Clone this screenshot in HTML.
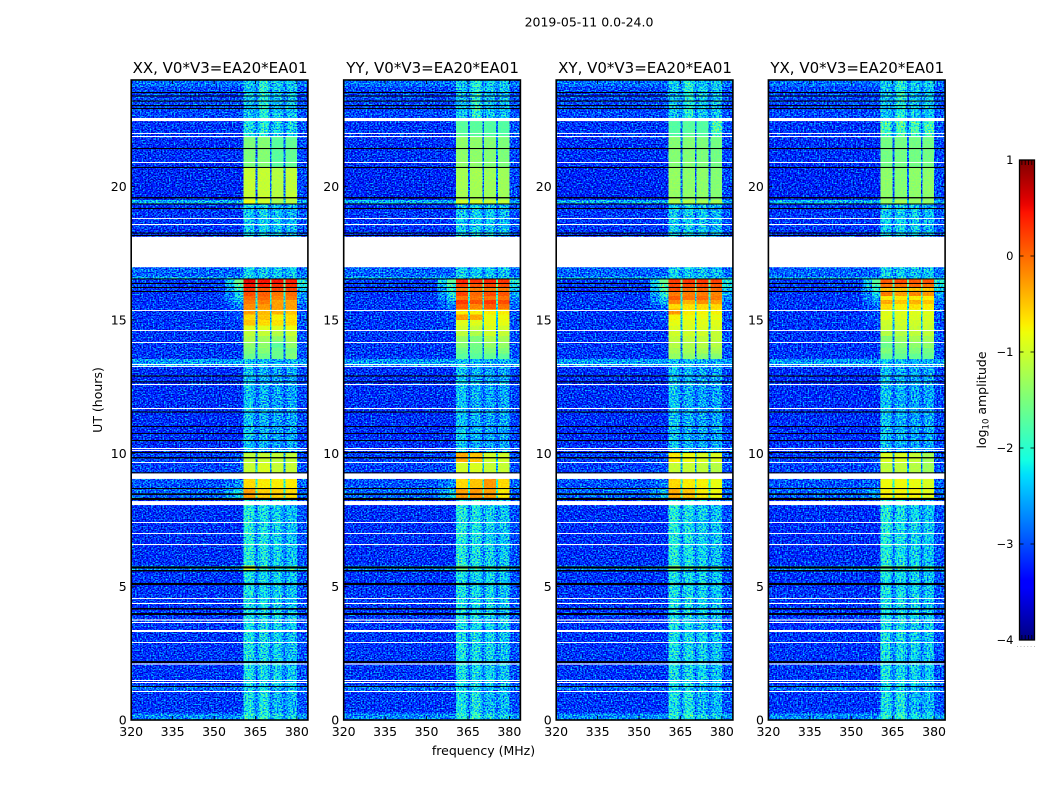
<!DOCTYPE html>
<html lang="en">
<head>
<meta charset="utf-8">
<title>2019-05-11 0.0-24.0</title>
<style>
html,body{margin:0;padding:0;background:#fff;}
svg{display:block;}
text{font-family:"DejaVu Sans","Liberation Sans",sans-serif;fill:#000;}
</style>
</head>
<body>
<svg id="chart" xmlns="http://www.w3.org/2000/svg" width="1050" height="800" viewBox="0 0 1050 800">
  <defs id="defs"></defs>
  <text x="589" y="26.5" font-size="12.5" text-anchor="middle">2019-05-11 0.0-24.0</text>
  <text transform="translate(102,400) rotate(-90)" font-size="12.5" text-anchor="middle">UT (hours)</text>
  <text x="483.5" y="755" font-size="12.5" text-anchor="middle">frequency (MHz)</text>
  <text transform="translate(986,400) rotate(-90)" font-size="12.5" text-anchor="middle">log<tspan font-size="8.5" dy="2.5">10</tspan><tspan dy="-2.5"> amplitude</tspan></text>
  <g id="panels"></g>
  <g id="colorbar"></g>
</svg>
<script>
// ---- axis data ----
const panelNames = ["XX", "YY", "XY", "YX"];
const baselineLabel = "V0*V3=EA20*EA01";
const xTicks = [320, 335, 350, 365, 380];
const yTicks = [0, 5, 10, 15, 20];
const colorTicks = [1, 0, -1, -2, -3, -4];

// ---- frequency segments in MHz, and which row column each one reads ----
const freqEdges = [320, 354, 357.5, 360.6, 364.3, 365, 365.7, 366.4, 369.5, 370.2, 370.9, 371.6, 374.5, 375.2, 375.9, 376.6, 380, 384];
const freqColumns = ["bg", "mid", "sh", "c1", "e1", "gap", "e2", "c2", "e2", "gap", "e3", "c3", "e3", "gap", "e4", "c4", "r"];

// ---- time rows: start of each row in UT hours ----
const rowStarts = [0, 0.25, 1.1, 1.3, 5.62, 5.8, 8.25, 8.7, 9.25, 9.65, 10.05, 13.25,
  13.54, 13.75, 13.95, 14.2, 14.4, 14.6, 14.8, 15.0, 15.2, 15.4, 15.6, 15.75, 15.9, 16.05, 16.2, 16.35,
  16.55, 16.62, 18.12, 19.37, 19.5, 20.7, 21.9, 22.55, 23.75];

// ---- log10 amplitude per row: [bg, sh, c1, c2, c3, c4, r, gap] ----
const B0 = [-2.7, -2.7, -2.05, -1.95, -2.2, -2.3, -2.6, -2.7];
const Q1 = [-3.15, -3.15, -2.2, -2.15, -2.45, -2.45, -3.0, -2.85];
const L1 = [-2.85, -2.85, -2.3, -2.3, -2.45, -2.45, -2.8, -2.8];
const Q2 = [-3.15, -3.15, -2.2, -2.25, -2.3, -2.4, -3.0, -2.85];
const Q3 = [-3.2, -3.2, -2.1, -2.2, -2.3, -2.4, -3.0, -2.8];
const Q4 = [-3.2, -3.2, -2.4, -2.5, -2.55, -2.55, -3.05, -2.95];
const L2 = [-2.6, -2.6, -2.4, -2.4, -2.5, -2.5, -2.6, -2.7];
const T1 = [-2.5, -2.5, -2.25, -2.25, -2.35, -2.35, -2.5, -2.6];
const T2 = [-2.9, -2.9, -2.3, -2.35, -2.35, -2.4, -2.85, -2.75];
const Q5 = [-3.15, -3.15, -2.35, -2.3, -2.35, -2.45, -3.0, -2.85];
const Q6 = [-3.05, -3.05, -2.4, -2.05, -2.35, -2.4, -3.0, -2.8];
const Q7 = [-2.85, -2.85, -2.35, -2.05, -2.35, -2.35, -2.8, -2.75];

const rowsXX = [B0, Q1, L1, Q2,
  [-2.75, -2.65, -1.0, -1.9, -2.0, -2.0, -2.65, -2.6], Q3,
  [-2.9, -2.3, -0.3, -0.55, -0.55, -0.6, -2.9, -1.9],
  [-3.0, -2.7, -0.6, -0.7, -0.7, -0.7, -2.9, -2.0],
  [-3.1, -3.0, -1.05, -0.95, -1.05, -1.05, -3.0, -2.6],
  [-3.1, -3.0, -1.1, -1.05, -1.1, -1.1, -3.0, -2.6], Q4, L2,
  [-3.15, -3.15, -1.6, -1.6, -1.6, -1.5, -3.0, -2.8],
  [-3.15, -3.15, -1.5, -1.45, -1.6, -1.55, -3.0, -2.8],
  [-3.15, -3.15, -1.4, -1.4, -1.7, -1.4, -3.0, -2.8],
  [-3.15, -3.15, -1.2, -1.3, -1.4, -1.2, -3.0, -2.7],
  [-3.15, -3.15, -1.1, -1.05, -1.15, -1.05, -3.0, -2.6],
  [-3.15, -3.15, -0.9, -0.9, -0.95, -0.85, -3.0, -2.5],
  [-3.15, -3.05, -0.5, -0.6, -0.65, -0.6, -3.0, -2.5],
  [-3.15, -3.0, -0.6, -0.5, -0.75, -0.65, -3.0, -2.5],
  [-3.15, -3.0, -0.3, -0.45, -0.4, -0.5, -3.0, -2.4],
  [-3.15, -2.8, -0.2, -0.25, -0.3, -0.3, -2.9, -2.3],
  [-3.15, -2.6, -0.1, -0.1, -0.3, -0.3, -2.8, -2.2],
  [-3.15, -2.3, 0.0, 0.0, -0.15, -0.1, -2.7, -2.1],
  [-3.15, -2.3, 0.15, 0.05, -0.05, 0.0, -2.6, -2.0],
  [-3.15, -2.0, 0.3, 0.1, 0.2, 0.2, -2.4, -1.9],
  [-3.1, -1.8, 0.45, 0.35, 0.3, 0.3, -2.2, -1.8],
  [-3.1, -1.6, 0.55, 0.45, 0.45, 0.4, -2.1, -1.7],
  T1, T2, Q5,
  [-2.5, -2.5, -0.85, -1.0, -1.25, -1.15, -2.55, -2.4],
  [-3.25, -3.25, -1.05, -1.05, -1.15, -1.1, -3.05, -2.9],
  [-3.2, -3.2, -1.5, -1.45, -1.7, -1.65, -3.05, -2.9],
  [-3.15, -3.15, -2.2, -2.1, -2.25, -2.3, -3.0, -2.85],
  Q6, Q7];

const rowsYY = [B0, Q1, L1, Q2,
  [-2.75, -2.65, -1.6, -1.9, -2.0, -2.0, -2.65, -2.6], Q3,
  [-2.9, -2.35, -0.3, -0.25, -0.3, -0.7, -2.9, -1.9],
  [-3.0, -2.7, -0.6, -0.5, -0.25, -0.6, -2.9, -2.0],
  [-3.1, -3.0, -1.0, -0.95, -1.05, -1.05, -3.0, -2.6],
  [-3.1, -3.0, -0.35, -0.5, -1.0, -1.0, -3.0, -2.3], Q4, L2,
  [-3.15, -3.15, -1.7, -1.7, -1.65, -1.7, -3.0, -2.8],
  [-3.15, -3.15, -1.6, -1.6, -1.5, -1.5, -3.0, -2.8],
  [-3.15, -3.15, -1.45, -1.55, -1.35, -1.35, -3.0, -2.8],
  [-3.15, -3.15, -1.35, -1.5, -1.2, -1.25, -3.0, -2.7],
  [-3.15, -3.15, -1.1, -1.2, -1.0, -1.05, -3.0, -2.6],
  [-3.15, -3.15, -1.0, -1.05, -0.95, -1.0, -3.0, -2.5],
  [-3.15, -3.05, -0.9, -0.9, -0.85, -0.85, -3.0, -2.4],
  [-3.15, -3.0, -0.3, -0.35, -0.85, -0.8, -3.0, -2.3],
  [-3.15, -3.0, -0.7, -0.75, -0.7, -0.7, -3.0, -2.3],
  [-3.15, -2.8, 0.05, -0.15, 0.05, -0.05, -2.9, -2.2],
  [-3.15, -2.6, 0.25, 0.1, 0.25, 0.15, -2.8, -2.1],
  [-3.15, -2.4, -0.05, -0.05, -0.05, -0.05, -2.7, -2.1],
  [-3.15, -2.2, 0.2, 0.0, 0.15, 0.1, -2.6, -2.0],
  [-3.15, -2.1, -0.1, -0.1, -0.1, -0.1, -2.4, -1.9],
  [-3.1, -1.9, 0.2, 0.1, 0.2, 0.15, -2.2, -1.8],
  [-3.1, -1.7, 0.35, 0.3, 0.35, 0.3, -2.1, -1.7],
  T1, T2, Q5,
  [-2.5, -2.5, -1.0, -1.0, -1.1, -1.1, -2.55, -2.4],
  [-3.25, -3.25, -1.25, -1.25, -1.3, -1.3, -3.05, -2.9],
  [-3.2, -3.2, -1.4, -1.4, -1.45, -1.5, -3.05, -2.9],
  [-3.15, -3.15, -1.7, -1.7, -1.75, -1.75, -3.0, -2.85],
  Q6, Q7];

const rowsXY = [B0, Q1, L1, Q2,
  [-2.75, -2.65, -1.5, -1.9, -2.0, -2.0, -2.65, -2.6], Q3,
  [-2.9, -2.45, -0.35, -0.5, -0.7, -0.8, -2.9, -1.9],
  [-3.0, -2.8, -0.6, -0.7, -0.75, -0.85, -2.9, -2.0],
  [-3.1, -3.0, -1.05, -1.05, -1.1, -1.15, -3.0, -2.6],
  [-3.1, -3.0, -0.7, -0.8, -0.95, -0.95, -3.0, -2.4], Q4, L2,
  [-3.15, -3.15, -1.35, -1.4, -1.45, -1.45, -3.0, -2.8],
  [-3.15, -3.15, -1.25, -1.25, -1.25, -1.25, -3.0, -2.8],
  [-3.15, -3.15, -1.15, -1.2, -1.15, -1.15, -3.0, -2.8],
  [-3.15, -3.15, -1.1, -1.1, -1.1, -1.1, -3.0, -2.7],
  [-3.15, -3.15, -1.0, -1.0, -1.0, -1.05, -3.0, -2.6],
  [-3.15, -3.15, -0.95, -0.95, -0.95, -0.95, -3.0, -2.5],
  [-3.15, -3.05, -0.85, -0.9, -0.9, -0.9, -3.0, -2.4],
  [-3.15, -3.0, -0.75, -0.8, -0.85, -0.85, -3.0, -2.3],
  [-3.15, -3.0, -0.25, -0.7, -0.75, -0.75, -3.0, -2.3],
  [-3.15, -2.8, -0.6, -0.65, -0.6, -0.6, -2.9, -2.2],
  [-3.15, -2.5, -0.15, -0.4, -0.2, -0.3, -2.8, -2.1],
  [-3.15, -2.3, 0.05, -0.05, 0.0, -0.1, -2.7, -2.1],
  [-3.15, -2.1, -0.1, -0.1, -0.1, -0.15, -2.6, -2.0],
  [-3.15, -1.9, 0.15, 0.0, 0.05, 0.0, -2.4, -1.9],
  [-3.1, -1.8, 0.2, 0.15, 0.15, 0.1, -2.2, -1.8],
  [-3.1, -1.6, 0.25, 0.25, 0.25, 0.2, -2.1, -1.7],
  T1, T2, Q5,
  [-2.5, -2.5, -1.2, -1.2, -1.25, -1.25, -2.55, -2.4],
  [-3.25, -3.25, -1.35, -1.4, -1.4, -1.45, -3.05, -2.9],
  [-3.2, -3.2, -1.45, -1.45, -1.5, -1.55, -3.05, -2.9],
  [-3.15, -3.15, -1.75, -1.7, -1.75, -1.8, -3.0, -2.85],
  Q6, Q7];

const rowsYX = [B0, Q1, L1, Q2,
  [-2.75, -2.65, -1.7, -1.9, -2.0, -2.0, -2.65, -2.6], Q3,
  [-2.9, -2.6, -0.75, -0.75, -0.75, -0.9, -2.9, -1.9],
  [-3.0, -2.9, -0.8, -0.8, -0.85, -0.95, -2.9, -2.0],
  [-3.1, -3.0, -1.1, -1.1, -1.15, -1.3, -3.0, -2.6],
  [-3.1, -3.0, -0.95, -0.95, -1.05, -1.25, -3.0, -2.6], Q4, L2,
  [-3.15, -3.15, -1.65, -1.65, -1.65, -1.65, -3.0, -2.8],
  [-3.15, -3.15, -1.5, -1.55, -1.5, -1.55, -3.0, -2.8],
  [-3.15, -3.15, -1.6, -1.45, -1.4, -1.4, -3.0, -2.8],
  [-3.15, -3.15, -1.45, -1.3, -1.25, -1.25, -3.0, -2.7],
  [-3.15, -3.15, -1.15, -1.15, -1.1, -1.1, -3.0, -2.6],
  [-3.15, -3.15, -1.05, -1.05, -1.05, -1.05, -3.0, -2.5],
  [-3.15, -3.05, -1.0, -1.0, -1.0, -1.0, -3.0, -2.4],
  [-3.15, -3.0, -0.9, -0.95, -0.95, -0.95, -3.0, -2.4],
  [-3.15, -3.0, -0.9, -0.9, -0.9, -0.9, -3.0, -2.3],
  [-3.15, -2.9, -0.6, -0.75, -0.65, -0.7, -2.9, -2.2],
  [-3.15, -2.7, -0.35, -0.5, -0.4, -0.5, -2.8, -2.1],
  [-3.15, -2.5, -0.7, -0.7, -0.7, -0.7, -2.7, -2.1],
  [-3.15, -2.3, -0.1, -0.3, -0.15, -0.25, -2.6, -2.0],
  [-3.15, -2.1, -0.5, -0.5, -0.5, -0.5, -2.4, -1.9],
  [-3.1, -1.9, -0.05, -0.05, 0.0, -0.05, -2.2, -1.8],
  [-3.1, -1.7, 0.1, 0.15, 0.1, 0.1, -2.1, -1.7],
  T1, T2, Q5,
  [-2.5, -2.5, -1.35, -1.25, -1.35, -1.35, -2.55, -2.4],
  [-3.25, -3.25, -1.4, -1.45, -1.4, -1.4, -3.05, -2.9],
  [-3.2, -3.2, -1.55, -1.55, -1.55, -1.55, -3.05, -2.9],
  [-3.15, -3.15, -1.85, -1.8, -1.85, -1.85, -3.0, -2.85],
  Q6, Q7];

// ---- flagged time ranges [startUT, endUT] ----
const whiteFlags = [[1.05,1.0875],[1.3875,1.425],[1.4625,1.5],[2.08,2.12],[2.89,2.925],[3.3,3.375],[3.6375,3.675],[3.73,3.77],
  [4.35,4.39],[4.54,4.575],[6.56,6.6],[6.975,7.01],[7.39,7.425],[8.06,8.21],[9.04,9.25],[9.64,9.675],[10.09,10.125],[10.16,10.2],
  [11.66,11.7],[12.56,12.6],[13.24,13.275],[13.31,13.35],[14.14,14.175],[14.59,14.625],[15.34,15.375],[16.98,18.12],
  [18.56,18.6],[18.79,18.825],[20.89,20.925],[21.86,21.9],[21.975,22.01],[22.46,22.575]];
const blackFlags = [[1.24,1.275],[2.14,2.21],[3.94,4.01],[4.14,4.2],[5.06,5.14],[5.57,5.625],[5.68,5.76],[8.25,8.33],[8.44,8.5],
  [8.66,8.7],[9.25,9.29],[9.81,9.86],[10.01,10.05],[10.46,10.5],[10.725,10.76],[10.99,11.025],[11.53,11.57],[12.66,12.7],[12.88,12.92],
  [16.05,16.09],[16.2,16.24],[16.35,16.39],[16.52,16.56],[18.15,18.19],[18.24,18.28],[19.16,19.2],[19.33,19.37],[19.56,19.61],
  [20.7,20.74],[21.41,21.45],[22.91,22.95],[23.02,23.06],[23.19,23.23],[23.38,23.42],[23.51,23.55]];

// ---- layout ----
const NS = "http://www.w3.org/2000/svg";
const panelLefts = [131.2, 343.7, 556.2, 768.4];
const panelWidth = 176.7, panelTop = 80, panelBottom = 720;
const xMin = 320, xMax = 384, tMin = 0, tMax = 24, vMin = -4, vMax = 1;
const cb = {x: 1019.5, y: 160, w: 15, h: 480};
const allRows = {XX: rowsXX, YY: rowsYY, XY: rowsXY, YX: rowsYX};

const xScale = (left, mhz) => left + (mhz - xMin) / (xMax - xMin) * panelWidth;
const yScale = ut => panelBottom - (ut - tMin) / (tMax - tMin) * (panelBottom - panelTop);
const fraction = v => Math.max(0, Math.min(1, (v - vMin) / (vMax - vMin)));

function lerpAnchors(a, t) {
  for (let i = 1; i < a.length; i++) {
    if (t <= a[i][0]) return a[i-1][1] + (a[i][1] - a[i-1][1]) * (t - a[i-1][0]) / (a[i][0] - a[i-1][0]);
  }
  return a[a.length - 1][1];
}
const jetR = [[0,0],[.35,0],[.66,1],[.89,1],[1,.5]];
const jetG = [[0,0],[.125,0],[.375,1],[.64,1],[.91,0],[1,0]];
const jetB = [[0,.5],[.11,1],[.34,1],[.65,0],[1,0]];
const jetColor = t => "rgb(" + [jetR, jetG, jetB].map(a => Math.round(lerpAnchors(a, t) * 255)).join(",") + ")";
const jetTable = a => { const out = []; for (let i = 0; i <= 64; i++) out.push(lerpAnchors(a, i / 64).toFixed(3)); return out.join(" "); };

function make(tag, attrs, parent) {
  const el = document.createElementNS(NS, tag);
  for (const k in attrs) el.setAttribute(k, attrs[k]);
  if (parent) parent.appendChild(el);
  return el;
}

const defs = document.getElementById("defs");

function makeNoiseFilter(id, seed, amp, left) {
  const f = make("filter", {id: id, filterUnits: "userSpaceOnUse", x: left, y: panelTop, width: panelWidth, height: panelBottom - panelTop, "color-interpolation-filters": "sRGB"}, defs);
  make("feTurbulence", {type: "fractalNoise", baseFrequency: "0.62 0.72", numOctaves: 1, seed: seed, result: "n"}, f);
  make("feColorMatrix", {in: "n", type: "matrix", values: "1 0 0 0 0 1 0 0 0 0 1 0 0 0 0 0 0 0 0 1", result: "g"}, f);
  make("feComposite", {in: "SourceGraphic", in2: "g", operator: "arithmetic", k1: 0, k2: 1, k3: amp, k4: -amp / 2, result: "mix"}, f);
  const ct = make("feComponentTransfer", {in: "mix", result: "col"}, f);
  make("feFuncR", {type: "table", tableValues: jetTable(jetR)}, ct);
  make("feFuncG", {type: "table", tableValues: jetTable(jetG)}, ct);
  make("feFuncB", {type: "table", tableValues: jetTable(jetB)}, ct);
  make("feComposite", {in: "col", in2: "SourceAlpha", operator: "in"}, f);
}

const columnIndex = {bg: 0, sh: 1, c1: 2, c2: 3, c3: 4, c4: 5, r: 6, gap: 7};
function cellValue(row, col) {
  if (col === "mid") return (row[0] + row[1]) / 2;
  if (col[0] === "e") {
    const c = row[columnIndex["c" + col[1]]];
    return c < -1.75 ? (c + row[7]) / 2 : c;
  }
  return row[columnIndex[col]];
}

const panelsRoot = document.getElementById("panels");

panelNames.forEach((name, p) => {
  const left = panelLefts[p];
  const right = left + panelWidth;
  const rows = allRows[name];

  const panel = make("g", {}, panelsRoot);
  
  

  makeNoiseFilter("noisy" + name, 11 + p * 7, 0.7, left);
  makeNoiseFilter("smooth" + name, 50 + p * 5, 0.1, left);

  const noisy = make("g", {filter: "url(#noisy" + name + ")", "shape-rendering": "crispEdges"}, panel);
  
  
  const smooth = make("g", {filter: "url(#smooth" + name + ")", "shape-rendering": "crispEdges"}, panel);
  
  

  rows.forEach((row, r) => {
    const t0 = rowStarts[r];
    const t1 = r + 1 < rowStarts.length ? rowStarts[r + 1] : tMax;
    freqColumns.forEach((col, s) => {
      const v = cellValue(row, col);
      const x0 = xScale(left, freqEdges[s]);
      const x1 = xScale(left, freqEdges[s + 1]);
      const gray = Math.round(fraction(v) * 255);
      const cell = make("rect", {
        x: x0.toFixed(2), y: yScale(t1).toFixed(2),
        width: (x1 - x0).toFixed(2), height: (yScale(t0) - yScale(t1)).toFixed(2),
        fill: "rgb(" + gray + "," + gray + "," + gray + ")"
      }, v < -1.75 ? noisy : smooth);
      
      
    });
  });

  whiteFlags.forEach(f => {
    const band = make("rect", {x: left, y: yScale(f[1]).toFixed(2), width: panelWidth, height: (yScale(f[0]) - yScale(f[1])).toFixed(2), fill: "#fff"}, panel);
    
    
  });
  blackFlags.forEach(f => {
    const band = make("rect", {x: left, y: yScale(f[1]).toFixed(2), width: panelWidth, height: (yScale(f[0]) - yScale(f[1])).toFixed(2), fill: "#000"}, panel);
    
    
  });

  xTicks.forEach(t => {
    const x = xScale(left, t);
    const top = make("line", {x1: x, x2: x, y1: panelTop, y2: panelTop + 4, stroke: "#000", "stroke-width": 0.8}, panel);
    
    
    const bottom = make("line", {x1: x, x2: x, y1: panelBottom - 4, y2: panelBottom, stroke: "#000", "stroke-width": 0.8}, panel);
    
    
    const label = make("text", {x: x, y: panelBottom + 16, "font-size": 12.5, "text-anchor": "middle"}, panel);
    
    
    label.textContent = t;
  });

  yTicks.forEach(t => {
    const y = yScale(t);
    const l = make("line", {x1: left, x2: left + 4, y1: y, y2: y, stroke: "#000", "stroke-width": 0.8}, panel);
    
    
    const rt = make("line", {x1: right - 4, x2: right, y1: y, y2: y, stroke: "#000", "stroke-width": 0.8}, panel);
    
    
    const label = make("text", {x: left - 4.5, y: y + 4.5, "font-size": 12.5, "text-anchor": "end"}, panel);
    
    
    label.textContent = t;
  });

  const frame = make("rect", {x: left, y: panelTop, width: panelWidth, height: panelBottom - panelTop, fill: "none", stroke: "#000", "stroke-width": 1.6}, panel);
  
  

  const title = make("text", {x: left + panelWidth / 2 + 0.5, y: 73, "font-size": 15, "text-anchor": "middle"}, panel);
  
  
  title.textContent = name + ", " + baselineLabel;
});

// ---- colorbar ----
const cbRoot = document.getElementById("colorbar");
const cbY = v => cb.y + (vMax - v) / (vMax - vMin) * cb.h;
const grad = make("linearGradient", {id: "jetGradient", x1: 0, y1: 1, x2: 0, y2: 0}, defs);
for (let i = 0; i <= 64; i++) {
  make("stop", {offset: (i / 64).toFixed(4), "stop-color": jetColor(i / 64)}, grad);
}
const cbBar = make("rect", {x: cb.x, y: cb.y, width: cb.w, height: cb.h, fill: "url(#jetGradient)"}, cbRoot);



colorTicks.forEach(t => {
  const y = cbY(t);
  const l = make("line", {x1: cb.x, x2: cb.x + 4, y1: y, y2: y, stroke: "#000", "stroke-width": 0.8}, cbRoot);
  
  
  const r = make("line", {x1: cb.x + cb.w - 4, x2: cb.x + cb.w, y1: y, y2: y, stroke: "#000", "stroke-width": 0.8}, cbRoot);
  
  
  const label = make("text", {x: cb.x - 6, y: y + 4, "font-size": 11.5, "text-anchor": "end"}, cbRoot);
  
  
  label.textContent = String(t).replace("-", "\u2212");
});

[0.16, 0.38, 0.6, 0.82].forEach(frac => {
  const x = cb.x + cb.w * frac;
  const top = make("line", {x1: x, x2: x, y1: cb.y, y2: cb.y + 5, stroke: "#000", "stroke-width": 0.8}, cbRoot);
  
  
  const bottom = make("line", {x1: x, x2: x, y1: cb.y + cb.h - 5, y2: cb.y + cb.h, stroke: "#000", "stroke-width": 0.8}, cbRoot);
  
  
});

const cbFrame = make("rect", {x: cb.x, y: cb.y, width: cb.w, height: cb.h, fill: "none", stroke: "#000", "stroke-width": 1.3}, cbRoot);



const cbDots = make("line", {x1: 1017, x2: 1035, y1: 646.5, y2: 646.5, stroke: "#bbb", "stroke-width": 1, "stroke-dasharray": "1 2.4"}, cbRoot);


</script>
</body>
</html>
